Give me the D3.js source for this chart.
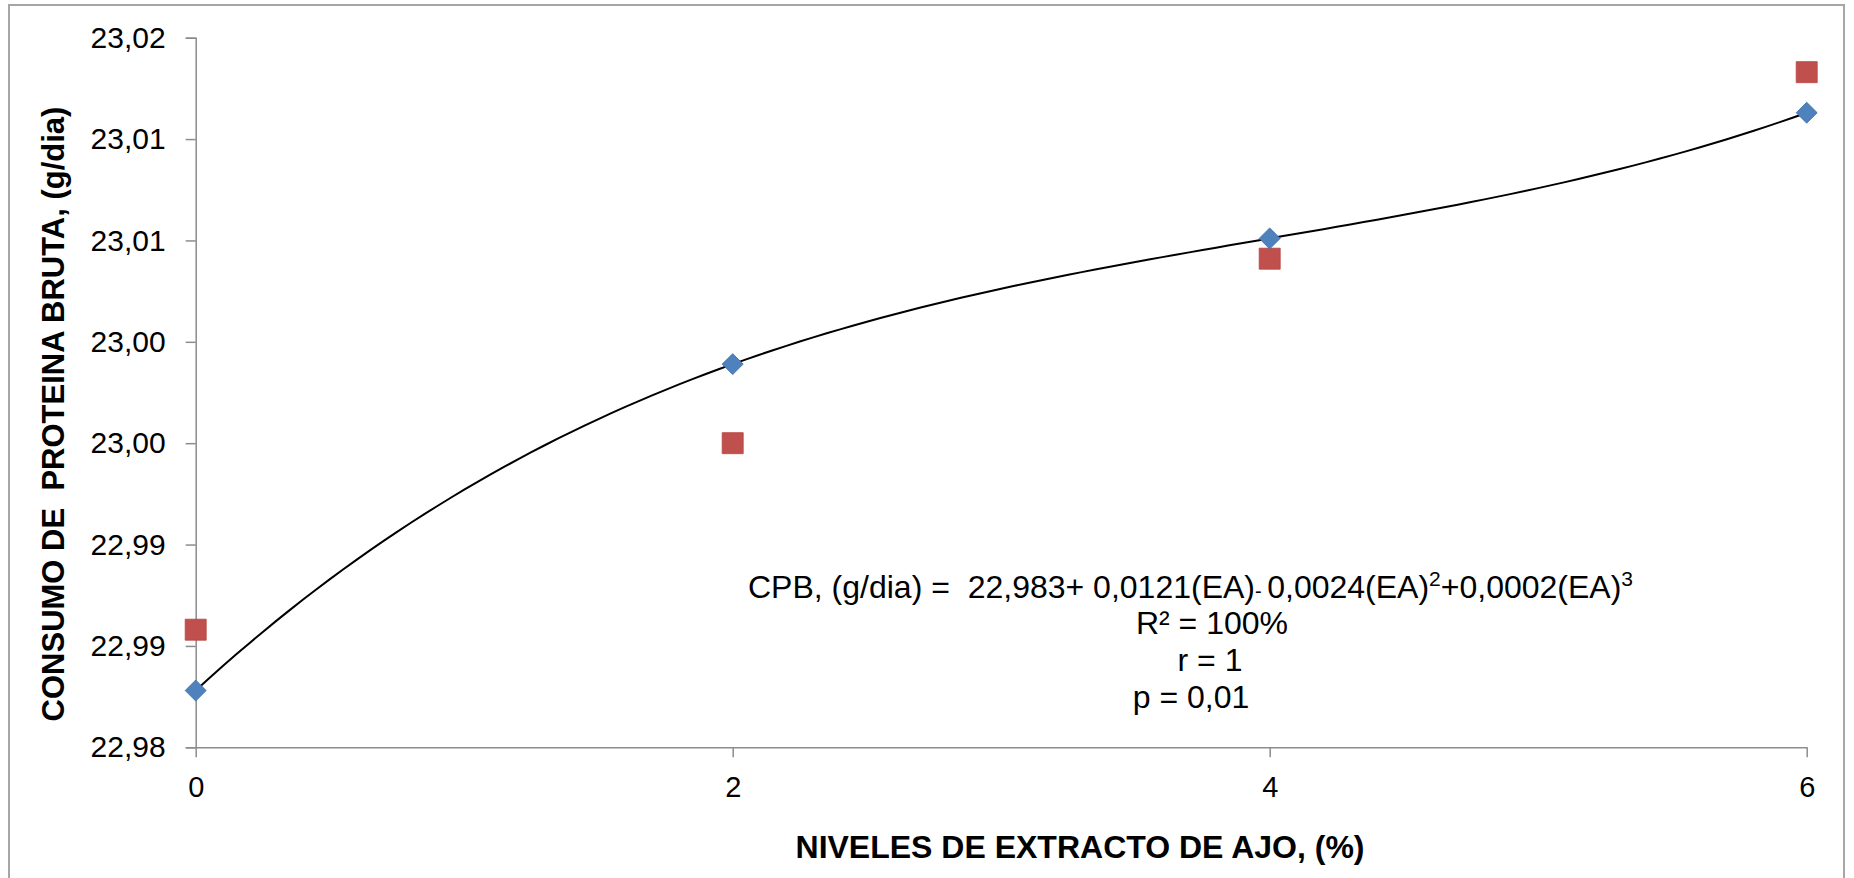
<!DOCTYPE html>
<html>
<head>
<meta charset="utf-8">
<script src="https://cdn.jsdelivr.net/npm/d3@7"></script>
<style>
  html, body { margin: 0; padding: 0; background: #ffffff; }
  svg { display: block; font-family: "Liberation Sans", Arial, sans-serif; }
  text { white-space: pre; }
</style>
</head>
<body>
<svg id="chart" width="1854" height="878"></svg>
<script>
// Garlic extract levels (%)
const levels = [0, 2, 4, 6];
// Crude protein intake, fitted values (diamonds) and observed means (squares), g/day
const fitted = [22.9828, 22.9989, 23.0051, 23.0113];
const observed = [22.9858, 22.9950, 23.0041, 23.0133];

const xTickValues = [0, 2, 4, 6];
const xTickLabels = ["0", "2", "4", "6"];
const yTickValues = [22.980, 22.985, 22.990, 22.995, 23.000, 23.005, 23.010, 23.015];
const yTickLabels = ["22,98", "22,99", "22,99", "23,00", "23,00", "23,01", "23,01", "23,02"];

const svg = d3.select("#chart");

// chart frame
svg.append("rect")
  .attr("x", 9).attr("y", 5)
  .attr("width", 1835).attr("height", 900)
  .attr("fill", "#ffffff")
  .attr("stroke", "#a6a6a6")
  .attr("stroke-width", 2);

const x = d3.scaleLinear().domain([0, 6]).range([195.7, 1806.7]);
const y = d3.scaleLinear().domain([22.980, 23.015]).range([747.3, 37.7]);

// y axis
const yAxis = svg.append("g")
  .attr("transform", `translate(${x(0)},0)`)
  .call(d3.axisLeft(y)
    .tickValues(yTickValues)
    .tickFormat((d, i) => yTickLabels[i])
    .tickSize(10)
    .tickPadding(20));
yAxis.select(".domain").attr("stroke", "#8c8c8c").attr("stroke-width", 1.5);
yAxis.selectAll(".tick line").attr("stroke", "#8c8c8c").attr("stroke-width", 1.5);
yAxis.selectAll(".tick text")
  .attr("fill", "#000")
  .style("font-size", "30px")
  .style("font-family", "'Liberation Sans', Arial, sans-serif");

// x axis
const xAxis = svg.append("g")
  .attr("transform", `translate(0,${y(22.980)})`)
  .call(d3.axisBottom(x)
    .tickValues(xTickValues)
    .tickFormat((d, i) => xTickLabels[i])
    .tickSize(10)
    .tickSizeOuter(0)
    .tickPadding(19));
xAxis.select(".domain").attr("stroke", "#8c8c8c").attr("stroke-width", 1.5);
xAxis.selectAll(".tick line").attr("stroke", "#8c8c8c").attr("stroke-width", 1.5);
xAxis.selectAll(".tick text")
  .attr("fill", "#000")
  .style("font-size", "29px")
  .style("font-family", "'Liberation Sans', Arial, sans-serif");

// cubic trend through the fitted values (Lagrange form)
function cubicAt(t) {
  let s = 0;
  for (let i = 0; i < levels.length; i++) {
    let w = 1;
    for (let j = 0; j < levels.length; j++) {
      if (j !== i) w *= (t - levels[j]) / (levels[i] - levels[j]);
    }
    s += w * fitted[i];
  }
  return s;
}
const curvePts = d3.range(0, 6.0001, 0.05).map(t => [t, cubicAt(t)]);
svg.append("path")
  .datum(curvePts)
  .attr("fill", "none")
  .attr("stroke", "#000")
  .attr("stroke-width", 2)
  .attr("d", d3.line().x(d => x(d[0])).y(d => y(d[1])));

// observed means: red squares
svg.append("g").selectAll("path")
  .data(levels.map((l, i) => [l, observed[i]]))
  .join("path")
  .attr("transform", d => `translate(${x(d[0])},${y(d[1])})`)
  .attr("d", d3.symbol(d3.symbolSquare, 441))
  .attr("fill", "#c0504d")
  .attr("stroke", "#b9433f")
  .attr("stroke-width", 0.8);

// fitted values: blue diamonds
svg.append("g").selectAll("path")
  .data(levels.map((l, i) => [l, fitted[i]]))
  .join("path")
  .attr("transform", d => `translate(${x(d[0])},${y(d[1])}) rotate(45)`)
  .attr("d", d3.symbol(d3.symbolSquare, 220))
  .attr("fill", "#4f81bd")
  .attr("stroke", "#3f6fa8")
  .attr("stroke-width", 0.8);

// axis titles
svg.append("text")
  .attr("x", 1080).attr("y", 858)
  .attr("text-anchor", "middle")
  .style("font-size", "32px").style("font-weight", "bold")
  .text("NIVELES DE EXTRACTO DE AJO, (%)");

svg.append("text")
  .attr("transform", "translate(64,414) rotate(-90)")
  .attr("text-anchor", "middle")
  .style("font-size", "31px").style("font-weight", "bold")
  .text("CONSUMO DE  PROTEINA BRUTA, (g/dia)");

// regression annotation
const eq = svg.append("text")
  .attr("x", 748).attr("y", 598)
  .style("font-size", "32px");
eq.append("tspan").text("CPB, (g/dia) =  22,983+ 0,0121(EA)");
eq.append("tspan").style("font-size", "20px").text("- ");
eq.append("tspan").text("0,0024(EA)");
eq.append("tspan").style("font-size", "21px").attr("dy", -12).text("2");
eq.append("tspan").attr("dy", 12).text("+0,0002(EA)");
eq.append("tspan").style("font-size", "21px").attr("dy", -12).text("3");

svg.append("text").attr("x", 1212).attr("y", 634).attr("text-anchor", "middle")
  .style("font-size", "32px").text("R² = 100%");
svg.append("text").attr("x", 1210).attr("y", 671).attr("text-anchor", "middle")
  .style("font-size", "32px").text("r = 1");
svg.append("text").attr("x", 1191).attr("y", 708).attr("text-anchor", "middle")
  .style("font-size", "32px").text("p = 0,01");
</script>
</body>
</html>
